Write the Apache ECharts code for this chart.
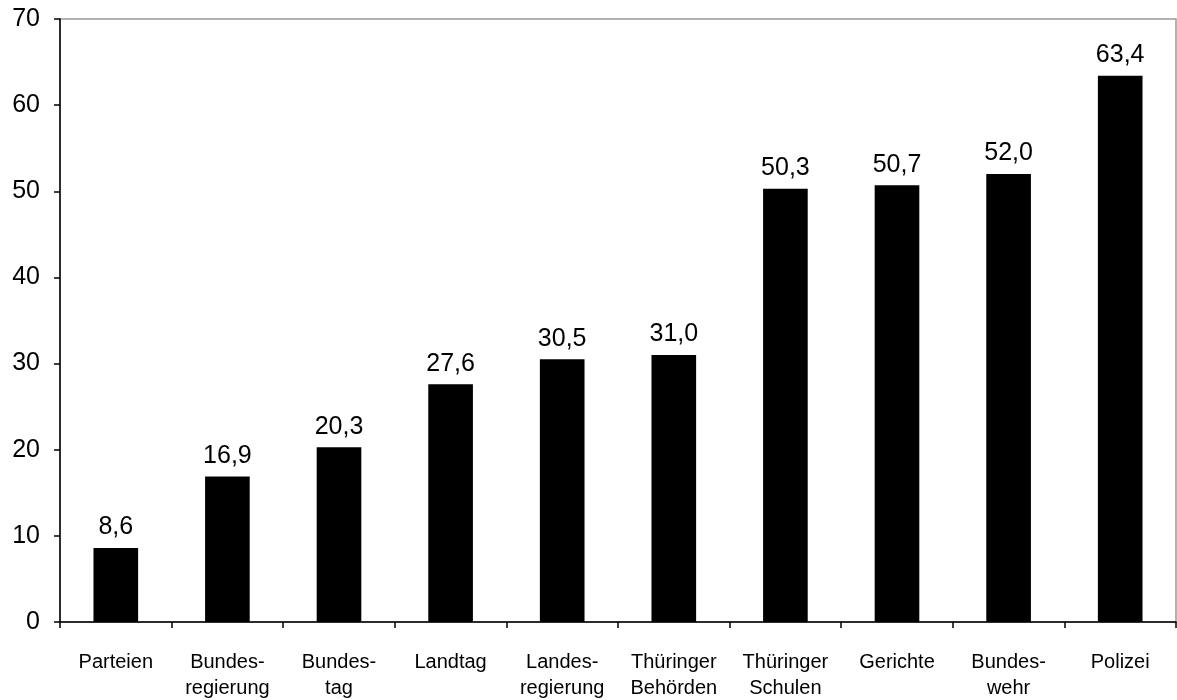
<!DOCTYPE html>
<html>
<head>
<meta charset="utf-8">
<script src="https://cdn.jsdelivr.net/npm/echarts@6/dist/echarts.min.js"></script>
<style>html,body{margin:0;padding:0;background:#fff;}#c{width:1177px;height:700px;}</style>
</head>
<body>
<div id="c"></div>
<script>
var categories = ["Parteien","Bundes-\nregierung","Bundes-\ntag","Landtag","Landes-\nregierung","Thüringer\nBehörden","Thüringer\nSchulen","Gerichte","Bundes-\nwehr","Polizei"];
var values = [8.6,16.9,20.3,27.6,30.5,31.0,50.3,50.7,52.0,63.4];
var yTicks = [0,10,20,30,40,50,60,70];

var chart = echarts.init(document.getElementById('c'));
chart.setOption({
  animation: false,
  backgroundColor: '#fff',
  textStyle: {fontFamily: 'Liberation Sans, Arial, sans-serif'},
  grid: {left: 60, right: 1, top: 19, bottom: 78, containLabel: false, outerBoundsMode: 'none', show: true, borderColor: '#999', borderWidth: 1.5, backgroundColor: 'transparent'},
  xAxis: {
    type: 'category',
    data: categories,
    axisLine: {lineStyle: {color: '#000', width: 1.5}},
    axisTick: {show: true, alignWithLabel: false, length: 6, lineStyle: {color: '#000', width: 1.5}},
    axisLabel: {color: '#000', fontSize: 20, lineHeight: 26, margin: 27, interval: 0, fontFamily: 'Liberation Sans, Arial, sans-serif'},
    splitLine: {show: false}
  },
  yAxis: {
    type: 'value',
    min: yTicks[0], max: yTicks[yTicks.length-1], interval: 10,
    axisLine: {show: true, lineStyle: {color: '#000', width: 1.5}},
    axisTick: {show: true, length: 6, lineStyle: {color: '#000', width: 1.5}},
    axisLabel: {color: '#000', fontSize: 25, margin: 20, fontFamily: 'Liberation Sans, Arial, sans-serif'},
    splitLine: {show: false}
  },
  series: [{
    type: 'bar',
    data: values,
    barWidth: '40%',
    itemStyle: {color: '#000'},
    label: {
      show: true, position: 'top', distance: 8, color: '#000', fontSize: 25,
      fontFamily: 'Liberation Sans, Arial, sans-serif',
      formatter: function(p){ return p.value.toFixed(1).replace('.', ','); }
    }
  }]
});
</script>
</body>
</html>
